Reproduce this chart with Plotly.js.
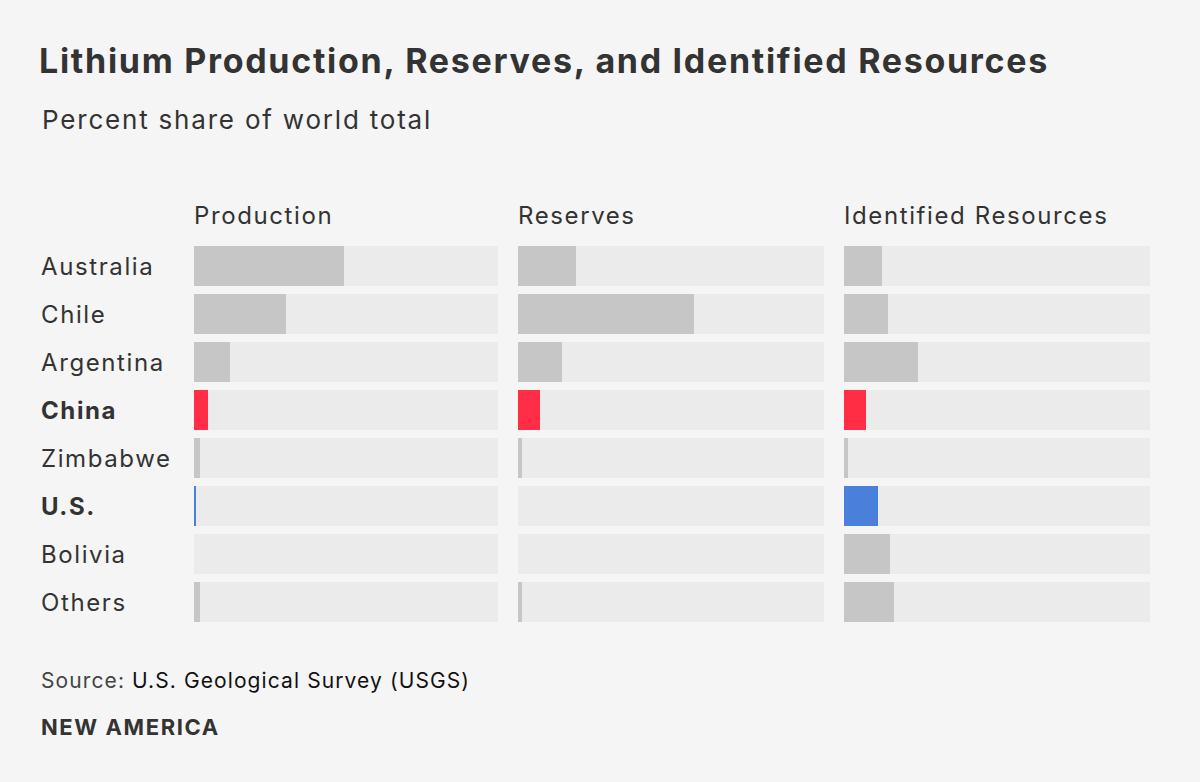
<!DOCTYPE html>
<html>
<head>
<meta charset="utf-8">
<script src="https://cdn.plot.ly/plotly-3.0.1.min.js"></script>
<style>
html,body{margin:0;padding:0;background:#f5f5f5;}
#chart{width:1200px;height:782px;}
#chart .gtitle{letter-spacing:1.7px;}
</style>
</head>
<body>
<div id="chart"></div>
<script>
// ---- data ----
var countries = ["Australia","Chile","Argentina","China","Zimbabwe","U.S.","Bolivia","Others"];
var production = [49.3, 30.3, 11.8, 4.6, 2.0, 0.7, 0, 2.0];
var reserves = [19.0, 57.5, 14.4, 7.2, 1.3, 0, 0, 1.3];
var resources = [12.4, 14.4, 24.2, 7.2, 1.3, 11.1, 15.0, 16.3];
var panelTitles = ["Production","Reserves","Identified Resources"];
var highlightRed = ["China"];
var highlightBlue = ["U.S."];
var fullScale = countries.map(function(){return 100;});

// ---- styling ----
var W = 1200, H = 782;
function px(x){return x/W;}
function py(y){return 1 - y/H;}
var GRAY = "#c6c6c6", TRACK = "#ebebeb", RED = "#ff2d46", BLUE = "#4a80dc";
var colors = countries.map(function(c){
  if (highlightRed.indexOf(c) >= 0) return RED;
  if (highlightBlue.indexOf(c) >= 0) return BLUE;
  return GRAY;
});
var FONT = "Inter, 'Open Sans', sans-serif";
function ls(t, sp){ return "<span style='letter-spacing:" + sp + "px'>" + t + "</span>"; }
var panels = [
  {vals: production, ax: "x",  x0: 194, x1: 498},
  {vals: reserves,   ax: "x2", x0: 518, x1: 824},
  {vals: resources,  ax: "x3", x0: 844, x1: 1150}
];

var traces = [];
panels.forEach(function(p){
  traces.push({type:"bar", orientation:"h", y:countries, x:fullScale, xaxis:p.ax, yaxis:"y",
    marker:{color:TRACK}, width:0.8333, hoverinfo:"skip", showlegend:false});
  traces.push({type:"bar", orientation:"h", y:countries, x:p.vals, xaxis:p.ax, yaxis:"y",
    marker:{color:colors}, width:0.8333, showlegend:false,
    hovertemplate:"%{y}: %{x}%<extra></extra>"});
});

var annotations = [];
panels.forEach(function(p, i){
  annotations.push({text: ls(panelTitles[i], 1.6), xref:"paper", yref:"paper", x:px(p.x0-2), y:py(216),
    xanchor:"left", yanchor:"middle", showarrow:false, font:{family:FONT, size:24, color:"#333"}});
});
countries.forEach(function(c){
  var bold = highlightRed.indexOf(c) >= 0 || highlightBlue.indexOf(c) >= 0;
  annotations.push({text: ls(bold ? "<b>"+c+"</b>" : c, 1.6), xref:"paper", yref:"y", x:px(39), y:c,
    xanchor:"left", yanchor:"middle", showarrow:false, font:{family:FONT, size:24, color:"#333"}});
});
annotations.push({text: ls("Percent share of world total", 1.8), xref:"paper", yref:"paper", x:px(40), y:py(120),
  xanchor:"left", yanchor:"middle", showarrow:false, font:{family:FONT, size:26, color:"#333"}});
annotations.push({text: ls("<span style='color:#444'>Source:</span> U.S. Geological Survey (USGS)", 1.1), xref:"paper", yref:"paper",
  x:px(39), y:py(680), xanchor:"left", yanchor:"middle", showarrow:false, font:{family:FONT, size:21, color:"#111"}});
annotations.push({text: ls("<b>NEW AMERICA</b>", 1.6), xref:"paper", yref:"paper", x:px(39), y:py(727),
  xanchor:"left", yanchor:"middle", showarrow:false, font:{family:FONT, size:22, color:"#333"}});

function xax(p){
  return {domain:[px(p.x0), px(p.x1)], range:[0,100], anchor:"y", showgrid:false, zeroline:false,
    showticklabels:false, showline:false, fixedrange:true};
}
var layout = {
  width:W, height:H, margin:{l:0,r:0,t:0,b:0},
  paper_bgcolor:"#f5f5f5", plot_bgcolor:"rgba(0,0,0,0)",
  barmode:"overlay", bargap:0,
  title:{text:"<b>Lithium Production, Reserves, and Identified Resources</b>", x:px(39), xanchor:"left",
    xref:"paper", y:py(61), yanchor:"middle", font:{family:FONT, size:34, color:"#333"}},
  xaxis: xax(panels[0]), xaxis2: xax(panels[1]), xaxis3: xax(panels[2]),
  yaxis:{domain:[py(626), py(242)], type:"category", range:[7.5,-0.5], showgrid:false, zeroline:false,
    showticklabels:false, showline:false, fixedrange:true},
  annotations: annotations,
  showlegend:false
};
Plotly.newPlot("chart", traces, layout, {displayModeBar:false});
</script>
</body>
</html>
